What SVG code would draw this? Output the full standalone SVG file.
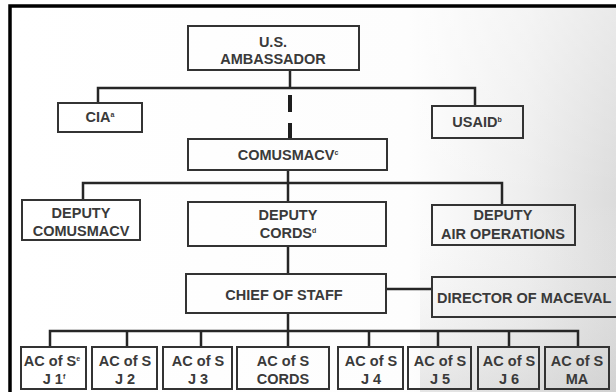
<svg xmlns="http://www.w3.org/2000/svg" width="616" height="392" viewBox="0 0 616 392">
  <defs>
    <linearGradient id="paper" x1="0" y1="0" x2="1" y2="0">
      <stop offset="0" stop-color="#ffffff"/>
      <stop offset="0.66" stop-color="#fdfdfd"/>
      <stop offset="0.85" stop-color="#eeeeee"/>
      <stop offset="1" stop-color="#dcdcdc"/>
    </linearGradient>
    <linearGradient id="shade" x1="0" y1="0" x2="0" y2="1">
      <stop offset="0" stop-color="#ffffff" stop-opacity="0.4"/>
      <stop offset="0.5" stop-color="#ffffff" stop-opacity="0"/>
      <stop offset="1" stop-color="#bdbdbd" stop-opacity="0.35"/>
    </linearGradient>
    <style>
      .box { fill: none; stroke: #333333; stroke-width: 2; }
      .ln { fill: none; stroke: #262626; stroke-width: 2.5; }
      .dash { fill: none; stroke: #1e1e1e; stroke-width: 4; }
      text { font-family: "Liberation Sans", Arial, sans-serif; font-size: 14.5px; font-weight: bold; fill: #3a3a3a; text-anchor: middle; }
      .sup { font-size: 7px; }
      .frame { fill: none; stroke: #000000; stroke-width: 3.5; }
    </style>
  </defs>

  <rect x="0" y="0" width="616" height="392" fill="#ffffff"/>
  <rect x="10" y="6" width="606" height="386" fill="url(#paper)"/>
  <rect x="420" y="6" width="196" height="386" fill="url(#shade)"/>

  <!-- frame -->
  <path class="frame" d="M10,392 V6 H616"/>

  <!-- connectors -->
  <g id="connectors">
    <path class="ln" d="M290,70 V88"/>
    <path class="ln" d="M98,103 V88 H475 V106"/>
    <path class="dash" d="M290,95 V112 M290,123 V139"/>
    <path class="ln" d="M288,170 V183"/>
    <path class="ln" d="M83,200 V183 H502 V205"/>
    <path class="ln" d="M288,183 V202"/>
    <path class="ln" d="M288,246 V274"/>
    <path class="ln" d="M386,289 H432"/>
    <path class="ln" d="M288,313 V347"/>
    <path class="ln" d="M50,347 V331 H578 V347"/>
    <path class="ln" d="M127,331 V347 M201,331 V347 M369,331 V347 M438,331 V347 M509,331 V347"/>
  </g>

  <g id="ambassador">
    <rect class="box" x="188" y="26" width="171" height="44"/>
    <text x="273" y="47">U.S.</text>
    <text x="273" y="64">AMBASSADOR</text>
  </g>
  <g id="cia">
    <rect class="box" x="58" y="103" width="84" height="29"/>
    <text x="100" y="122">CIA<tspan class="sup" dy="-5">a</tspan></text>
  </g>
  <g id="usaid">
    <rect class="box" x="432" y="106" width="91" height="32"/>
    <text x="477" y="127">USAID<tspan class="sup" dy="-5">b</tspan></text>
  </g>
  <g id="comusmacv">
    <rect class="box" x="188" y="139" width="199" height="31"/>
    <text x="288" y="160">COMUSMACV<tspan class="sup" dy="-5">c</tspan></text>
  </g>
  <g id="deputy-comusmacv">
    <rect class="box" x="22" y="200" width="118" height="40"/>
    <text x="81" y="218">DEPUTY</text>
    <text x="81" y="236">COMUSMACV</text>
  </g>
  <g id="deputy-cords">
    <rect class="box" x="188" y="202" width="198" height="44"/>
    <text x="288" y="220">DEPUTY</text>
    <text x="288" y="238">CORDS<tspan class="sup" dy="-5">d</tspan></text>
  </g>
  <g id="deputy-air">
    <rect class="box" x="432" y="205" width="143" height="40"/>
    <text x="503" y="220">DEPUTY</text>
    <text x="503" y="239">AIR OPERATIONS</text>
  </g>
  <g id="chief">
    <rect class="box" x="186" y="274" width="200" height="39"/>
    <text x="284" y="300">CHIEF OF STAFF</text>
  </g>
  <g id="maceval">
    <rect class="box" x="432" y="277" width="190" height="40"/>
    <text x="437" y="303" style="text-anchor:start">DIRECTOR OF MACEVAL</text>
  </g>

  <g id="j1">
    <rect class="box" x="21" y="347" width="65" height="42"/>
    <text x="52" y="366">AC of S<tspan class="sup" dy="-5">e</tspan></text>
    <text x="54" y="384">J 1<tspan class="sup" dy="-5">f</tspan></text>
  </g>
  <g id="j2">
    <rect class="box" x="92" y="347" width="65" height="42"/>
    <text x="125" y="366">AC of S</text>
    <text x="125" y="384">J 2</text>
  </g>
  <g id="j3">
    <rect class="box" x="163" y="347" width="69" height="42"/>
    <text x="198" y="366">AC of S</text>
    <text x="198" y="384">J 3</text>
  </g>
  <g id="cords">
    <rect class="box" x="237" y="347" width="92" height="42"/>
    <text x="283" y="366">AC of S</text>
    <text x="283" y="384">CORDS</text>
  </g>
  <g id="j4">
    <rect class="box" x="338" y="347" width="65" height="42"/>
    <text x="371" y="366">AC of S</text>
    <text x="371" y="384">J 4</text>
  </g>
  <g id="j5">
    <rect class="box" x="408" y="347" width="63" height="42"/>
    <text x="440" y="366">AC of S</text>
    <text x="440" y="384">J 5</text>
  </g>
  <g id="j6">
    <rect class="box" x="478" y="347" width="61" height="42"/>
    <text x="509" y="366">AC of S</text>
    <text x="509" y="384">J 6</text>
  </g>
  <g id="ma">
    <rect class="box" x="545" y="347" width="64" height="42"/>
    <text x="577" y="366">AC of S</text>
    <text x="577" y="384">MA</text>
  </g>
</svg>
